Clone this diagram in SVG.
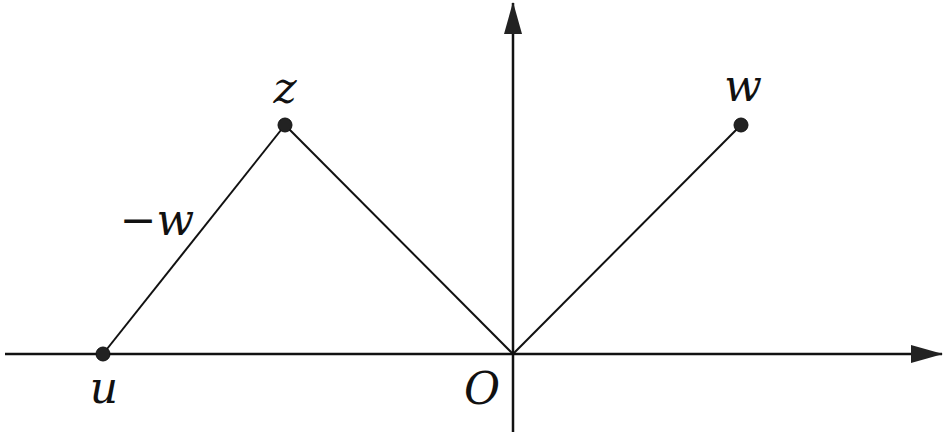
<svg xmlns="http://www.w3.org/2000/svg" width="950" height="438" viewBox="0 0 950 438">
<style>
.ln{stroke:#111;stroke-width:2;fill:none}
.ax{stroke:#111;stroke-width:2.5;fill:none}
.dot{fill:#222;stroke:#111;stroke-width:1}
text{font-family:'DejaVu Serif',serif;font-style:italic;font-size:44px;fill:#111;text-anchor:middle}
</style>
<defs>
<marker id="ah" viewBox="0 0 32 18" refX="31" refY="9" markerWidth="32" markerHeight="18" markerUnits="userSpaceOnUse" orient="auto">
<path d="M0,0 L32,9 L0,18 Z" fill="#222"/>
</marker>
</defs>
<g id="connectors">
<line class="ax" x1="5" y1="354" x2="942" y2="354" marker-end="url(#ah)"/>
<line class="ax" x1="513" y1="432" x2="513" y2="3" marker-end="url(#ah)"/>
<line class="ln" x1="103" y1="354" x2="285" y2="125"/>
<line class="ln" x1="285" y1="125" x2="513" y2="354"/>
<line class="ln" x1="513" y1="354" x2="741" y2="125"/>
</g>
<g id="node-z"><circle class="dot" cx="285" cy="125" r="7"/><text x="285" y="103">z</text></g>
<g id="node-w"><circle class="dot" cx="741" cy="125" r="7"/><text x="743" y="101">w</text></g>
<g id="node-u"><circle class="dot" cx="103" cy="354" r="7"/><text x="104" y="403">u</text></g>
<g id="node-O"><text x="482" y="404">O</text></g>
<g id="label-minus-w"><text x="157" y="235">−w</text></g>
</svg>
